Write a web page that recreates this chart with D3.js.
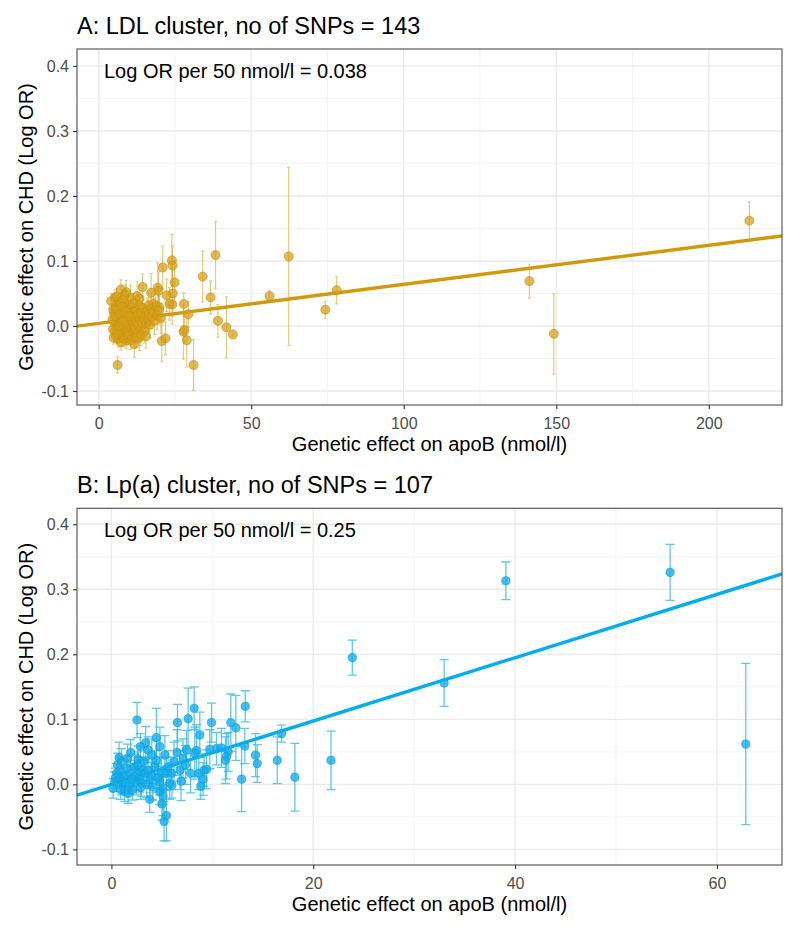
<!DOCTYPE html>
<html>
<head>
<meta charset="utf-8">
<script src="https://cdn.jsdelivr.net/npm/d3@7"></script>
<style>
  html, body { margin: 0; padding: 0; background: #ffffff; }
  svg { display: block; font-family: "Liberation Sans", Arial, Helvetica, sans-serif; }
</style>
</head>
<body>
<svg id="chart" width="800" height="931"></svg>
<script>
// ---------------- DATA ----------------
// Panel A: LDL cluster (x = apoB effect nmol/l, y = log OR, err = half-width of bar)
const ldlX = [213.3,141.2,149.2,62.3,56.0,74.3,78.0,38.3,34.1,36.7,39.1,41.9,44.0,31.1,28.9,27.8,28.1,27.9,29.4,24.0,
  24.2,24.9,24.3,24.1,21.0,19.4,19.6,17.2,22.3,14.4,7.3,9.0,10.4,12.6,13.4,6.2,20.7,21.9,11.7,13.4,
  9.0,4.1,5.4,18.0,23.2,19.9,16.4,6.0,8.7,
  5.0,5.2,5.3,5.5,5.6,5.8,6.0,6.1,6.3,6.4,6.5,6.7,6.8,7.0,7.1,7.2,7.4,7.5,7.6,7.8,
  7.9,8.0,8.2,8.3,8.5,8.6,8.8,9.0,9.1,9.3,9.4,9.6,9.7,9.9,10.1,10.2,10.4,10.5,10.7,10.9,
  11.0,11.2,11.4,11.6,11.8,12.0,12.2,12.4,12.6,12.8,13.0,13.2,13.5,13.7,14.0,14.2,14.5,14.8,15.0,15.3,
  15.6,15.9,16.2,16.5,16.8,17.1,17.5,17.9,18.3,18.7,19.2,19.8,20.4,4.5,4.7,4.8,4.9,5.4,5.9,6.2,
  6.6,6.9,7.3,7.7,8.1,8.4,8.9,9.5,10.0,10.6,11.3,12.3,13.8,15.5,16.4];
const ldlY = [0.162,0.069,-0.012,0.107,0.046,0.025,0.055,0.109,0.076,0.044,0.008,-0.002,-0.013,-0.060,-0.022,-0.009,-0.006,0.034,0.018,0.101,
  0.093,0.067,0.050,0.033,0.090,0.059,0.054,0.051,0.047,0.060,0.056,0.052,0.043,0.046,0.042,-0.060,-0.023,-0.019,-0.028,-0.018,
  -0.014,0.038,0.044,0.034,0.034,0.029,0.009,0.045,0.048,
  0.020,0.005,-0.008,0.028,-0.015,0.012,-0.002,0.032,0.018,-0.020,0.008,0.024,-0.010,0.000,0.015,0.035,-0.005,0.010,-0.018,0.022,
  0.003,0.040,-0.012,0.016,0.006,0.028,-0.003,0.012,-0.022,0.020,0.002,0.033,-0.008,0.010,0.025,-0.015,0.004,0.018,-0.004,0.030,
  0.008,-0.010,0.022,0.000,0.014,-0.006,0.026,0.006,-0.012,0.018,0.002,0.032,0.010,-0.003,0.020,0.005,0.028,0.012,-0.008,0.016,
  0.004,0.024,0.010,0.018,0.002,0.027,0.014,0.022,0.008,0.030,0.016,0.024,0.012,0.010,-0.005,0.025,-0.018,0.015,0.025,-0.012,
  0.000,0.018,-0.025,0.030,0.008,-0.020,0.022,-0.015,0.015,-0.022,0.035,-0.018,-0.014,-0.016,0.032];
const ldlErr = [0.029,0.026,0.062,0.137,0.009,0.013,0.021,0.052,0.039,0.025,0.025,0.047,0.003,0.039,0.041,0.042,0.020,0.017,0.020,0.040,
  0.030,0.030,0.035,0.030,0.033,0.038,0.030,0.030,0.025,0.020,0.015,0.018,0.020,0.022,0.020,0.012,0.032,0.025,0.020,0.020,
  0.015,0.012,0.012,0.020,0.025,0.020,0.018,0.013,0.015,
  0.010,0.009,0.010,0.012,0.011,0.008,0.010,0.011,0.009,0.012,0.010,0.013,0.010,0.011,0.009,0.014,0.012,0.010,0.013,0.011,
  0.009,0.015,0.011,0.010,0.012,0.013,0.010,0.014,0.012,0.011,0.010,0.015,0.013,0.012,0.014,0.012,0.011,0.013,0.015,0.016,
  0.012,0.014,0.013,0.012,0.015,0.014,0.016,0.013,0.015,0.014,0.016,0.017,0.015,0.016,0.015,0.017,0.018,0.016,0.018,0.017,
  0.016,0.019,0.018,0.017,0.020,0.019,0.018,0.020,0.021,0.020,0.022,0.021,0.023,0.010,0.009,0.011,0.010,0.010,0.011,0.010,
  0.011,0.010,0.012,0.012,0.011,0.012,0.012,0.013,0.012,0.014,0.015,0.015,0.016,0.018,0.019];

// Panel B: Lp(a) cluster
const lpaX = [23.87,21.76,32.97,39.09,55.36,62.86,18.18,16.43,16.86,14.28,14.45,13.26,11.83,12.33,13.22,12.9,11.57,11.4,11.3,9.92,
  10.42,9.75,8.2,7.6,6.55,8.76,8.43,8.26,7.44,6.51,7.1,7.34,7.84,8.66,9.19,9.42,9.09,8.86,6.0,5.22,
  5.45,2.54,0.76,4.46,3.4,2.87,3.63,1.91,2.64,3.8,4.79,
  5.12,5.12,2.8,2.64,4.3,4.46,4.96,4.79,3.8,3.97,0.16,0.33,0.5,0.82,1.32,1.32,1.82,1.82,2.3,2.3,
  2.47,3.13,2.98,3.3,3.63,0.82,0.99,1.65,5.45,5.62,5.95,5.78,
  0.6,1.0,1.1,1.5,1.6,2.0,2.1,2.6,2.9,3.2,3.5,4.0,4.1,4.6,0.4,0.9,6.2,6.8,5.3,6.9,5.0,10.9,4.8,1.4];
const lpaY = [0.195,0.037,0.156,0.313,0.326,0.062,0.011,0.037,0.078,0.045,0.032,0.120,0.095,0.087,0.059,0.008,0.050,0.043,0.037,0.095,
  0.055,0.054,0.117,0.101,0.095,0.076,0.052,0.048,0.053,0.049,0.040,0.030,0.017,0.017,0.022,0.023,0.008,-0.003,-0.001,-0.057,
  -0.048,0.099,0.041,0.072,0.064,0.058,0.053,0.049,0.039,-0.023,-0.011,
  -0.018,-0.006,0.008,0.022,0.027,0.037,0.017,0.004,0.007,0.014,-0.006,0.004,0.017,0.022,0.012,-0.011,-0.001,0.017,0.012,0.027,
  0.004,0.022,0.002,0.017,0.022,0.009,-0.001,-0.014,0.017,0.027,0.017,0.002,
  0.030,0.035,0.005,0.025,0.040,0.008,-0.008,0.030,-0.005,0.035,0.000,0.045,-0.004,0.010,0.010,-0.008,0.035,0.022,0.045,0.005,-0.030,0.056,0.058,0.002];
const lpaErr = [0.027,0.045,0.036,0.029,0.043,0.124,0.052,0.036,0.013,0.033,0.029,0.024,0.044,0.050,0.027,0.050,0.030,0.035,0.036,0.030,
  0.025,0.030,0.033,0.047,0.028,0.035,0.040,0.040,0.030,0.035,0.030,0.030,0.030,0.025,0.025,0.030,0.025,0.020,0.020,0.030,
  0.039,0.027,0.024,0.045,0.025,0.020,0.020,0.020,0.020,0.020,0.020,
  0.030,0.025,0.020,0.020,0.025,0.030,0.025,0.020,0.020,0.020,0.015,0.015,0.015,0.020,0.015,0.015,0.015,0.020,0.020,0.020,
  0.020,0.020,0.020,0.020,0.020,0.015,0.015,0.015,0.025,0.025,0.025,0.025,
  0.018,0.020,0.015,0.018,0.022,0.018,0.016,0.020,0.018,0.022,0.020,0.025,0.020,0.022,0.015,0.015,0.030,0.030,0.030,0.030,0.025,0.030,0.030,0.015];

// Fitted lines (intercept, slope) and labels
const ldlFit = [0.004, 0.0006];
const lpaFit = [0.0, 0.00487];
const titles = ["A: LDL cluster, no of SNPs = 143", "B: Lp(a) cluster, no of SNPs = 107"];
const notes = ["Log OR per 50 nmol/l = 0.038", "Log OR per 50 nmol/l = 0.25"];
const yTicks = [-0.1, 0, 0.1, 0.2, 0.3, 0.4];
const yMinor = [-0.05, 0.05, 0.15, 0.25, 0.35];
const xTicksA = [0, 50, 100, 150, 200];
const xMinorA = [25, 75, 125, 175];
const xTicksB = [0, 20, 40, 60];
const xMinorB = [10, 30, 50];
const xTitle = "Genetic effect on apoB (nmol/l)";
const yTitle = "Genetic effect on CHD (Log OR)";

// ---------------- DRAW ----------------
const svg = d3.select("#chart");
const L = 77, R = 782;

const panels = [
  { top: 49, bottom: 405, xd: [-7.1, 224], yd: [-0.1215, 0.426], xs: ldlX, ys: ldlY, es: ldlErr, fit: ldlFit,
    xt: xTicksA, xm: xMinorA, title: titles[0], note: notes[0],
    pointFill: "rgba(212,159,25,0.72)", pointStroke: "rgba(200,146,14,0.85)",
    barCol: "rgba(212,159,25,0.55)", lineCol: "#D19A0B", cap: 1.5, r: 4.5, barW: 1.2 },
  { top: 508.3, bottom: 865, xd: [-3.41, 66.45], yd: [-0.124, 0.4246], xs: lpaX, ys: lpaY, es: lpaErr, fit: lpaFit,
    xt: xTicksB, xm: xMinorB, title: titles[1], note: notes[1],
    pointFill: "rgba(22,172,232,0.78)", pointStroke: "rgba(10,160,220,0.9)",
    barCol: "rgba(40,180,235,0.75)", lineCol: "#00AEEF", cap: 4.5, r: 4.1, barW: 1.3 }
];

panels.forEach(p => {
  const x = d3.scaleLinear().domain(p.xd).range([L, R]);
  const y = d3.scaleLinear().domain(p.yd).range([p.bottom, p.top]);
  const g = svg.append("g");

  // grid
  g.selectAll(".ymin").data(yMinor).join("line")
    .attr("x1", L).attr("x2", R).attr("y1", d => y(d)).attr("y2", d => y(d))
    .attr("stroke", "#F2F2F2").attr("stroke-width", 0.9);
  g.selectAll(".xmin").data(p.xm).join("line")
    .attr("y1", p.top).attr("y2", p.bottom).attr("x1", d => x(d)).attr("x2", d => x(d))
    .attr("stroke", "#F2F2F2").attr("stroke-width", 0.9);
  g.selectAll(".ymaj").data(yTicks).join("line")
    .attr("x1", L).attr("x2", R).attr("y1", d => y(d)).attr("y2", d => y(d))
    .attr("stroke", "#EBEBEB").attr("stroke-width", 1.4);
  g.selectAll(".xmaj").data(p.xt).join("line")
    .attr("y1", p.top).attr("y2", p.bottom).attr("x1", d => x(d)).attr("x2", d => x(d))
    .attr("stroke", "#EBEBEB").attr("stroke-width", 1.4);

  // fitted line (clipped to panel)
  const clipId = "clip" + Math.round(p.top);
  svg.append("defs").append("clipPath").attr("id", clipId)
    .append("rect").attr("x", L).attr("y", p.top).attr("width", R - L).attr("height", p.bottom - p.top);
  const data = p.xs.map((v, i) => ({ x: v, y: p.ys[i], e: p.es[i] }));
  const plot = g.append("g").attr("clip-path", `url(#${clipId})`);
  plot.append("line")
    .attr("x1", x(p.xd[0])).attr("x2", x(p.xd[1]))
    .attr("y1", y(p.fit[0] + p.fit[1] * p.xd[0])).attr("y2", y(p.fit[0] + p.fit[1] * p.xd[1]))
    .attr("stroke", p.lineCol).attr("stroke-width", 3.4);

  // error bars
  const eb = plot.append("g").attr("stroke", p.barCol).attr("stroke-width", p.barW).attr("fill", "none");
  eb.selectAll("path").data(data).join("path")
    .attr("d", d => {
      const cx = x(d.x), y1 = y(d.y + d.e), y2 = y(d.y - d.e), c = p.cap;
      return `M${cx - c},${y1}H${cx + c}M${cx},${y1}V${y2}M${cx - c},${y2}H${cx + c}`;
    });

  // points
  plot.selectAll("circle").data(data).join("circle")
    .attr("cx", d => x(d.x)).attr("cy", d => y(d.y)).attr("r", p.r)
    .attr("fill", p.pointFill).attr("stroke", p.pointStroke).attr("stroke-width", 0.8);

  // border
  g.append("rect").attr("x", L).attr("y", p.top).attr("width", R - L).attr("height", p.bottom - p.top)
    .attr("fill", "none").attr("stroke", "#4D4D4D").attr("stroke-width", 1.1);

  // axes
  const xAxis = d3.axisBottom(x).tickValues(p.xt).tickSize(4).tickPadding(5).tickFormat(d3.format("d"));
  const yAxis = d3.axisLeft(y).tickValues(yTicks).tickSize(4).tickPadding(4).tickFormat(d => d3.format(".1f")(d).replace("−", "-"));
  const gx = g.append("g").attr("transform", `translate(0,${p.bottom})`).call(xAxis);
  const gy = g.append("g").attr("transform", `translate(${L},0)`).call(yAxis);
  [gx, gy].forEach(a => {
    a.select(".domain").remove();
    a.selectAll(".tick line").attr("stroke", "#333333").attr("stroke-width", 1.1);
    a.selectAll(".tick text").attr("fill", "#4D4D4D").style("font-size", "16px")
      .style("font-family", "'Liberation Sans', Arial, Helvetica, sans-serif");
  });
  gx.selectAll(".tick text").attr("dy", "0.95em");

  // titles
  g.append("text").attr("x", L).attr("y", p.top - 15).text(p.title)
    .style("font-size", "23.5px").attr("fill", "#000");
  g.append("text").attr("x", 104).attr("y", p.top + 29).text(p.note)
    .style("font-size", "20px").attr("fill", "#000");
  g.append("text").attr("x", (L + R) / 2).attr("y", p.bottom + 46).attr("text-anchor", "middle")
    .text(xTitle).style("font-size", "20px").attr("fill", "#000");
  g.append("text").attr("transform", `translate(32.5,${(p.top + p.bottom) / 2}) rotate(-90)`)
    .attr("text-anchor", "middle").text(yTitle).style("font-size", "20px").attr("fill", "#000");
});
</script>
</body>
</html>
